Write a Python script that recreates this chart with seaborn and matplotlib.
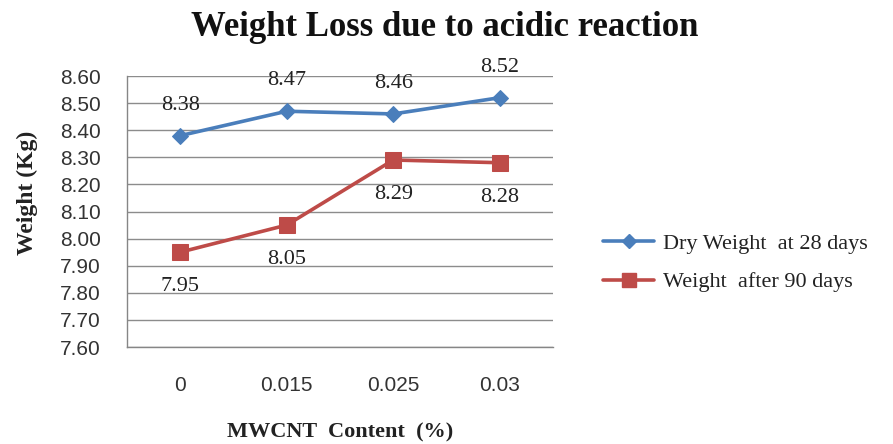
import seaborn as sns
import matplotlib.pyplot as plt
import pandas as pd
import numpy as np
from matplotlib.ticker import FixedLocator
from matplotlib.lines import Line2D

# data
content = ["0", "0.015", "0.025", "0.03"]
dry_28 = [8.38, 8.47, 8.46, 8.52]
after_90 = [7.95, 8.05, 8.29, 8.28]
series_names = ["Dry Weight  at 28 days", "Weight  after 90 days"]
y_ticks = [7.60, 7.70, 7.80, 7.90, 8.00, 8.10, 8.20, 8.30, 8.40, 8.50, 8.60]

df = pd.DataFrame({
    "content": content * 2,
    "weight": dry_28 + after_90,
    "series": [series_names[0]] * 4 + [series_names[1]] * 4,
})

sns.set_style("white")
serif = ["Liberation Serif", "DejaVu Serif"]
sans = ["Liberation Sans", "DejaVu Sans"]
plt.rcParams["font.family"] = sans

colors = {series_names[0]: "#4A7EBB", series_names[1]: "#BE4B48"}
markers = {series_names[0]: "D", series_names[1]: "s"}

fig = plt.figure(figsize=(8.93, 4.44), dpi=100)
ax = fig.add_axes([127 / 893, 1 - 347 / 444, 426 / 893, 271 / 444])

sns.lineplot(data=df, x="content", y="weight", hue="series", style="series",
             palette=colors, markers=markers, dashes=False, sort=False,
             linewidth=2.6, ax=ax, legend=False)
for line, name in zip(ax.lines, series_names):
    line.set_markersize(8 if markers[name] == "D" else 11)
    line.set_markeredgecolor(colors[name])

# data labels
for i, v in enumerate(dry_28):
    ax.annotate(f"{v:.2f}", (i, v), xytext=(0, 22), textcoords="offset points",
                ha="center", va="center", fontsize=16, family=serif, color="#222222")
for i, v in enumerate(after_90):
    ax.annotate(f"{v:.2f}", (i, v), xytext=(0, -25), textcoords="offset points",
                ha="center", va="center", fontsize=16, family=serif, color="#222222")

ax.set_ylim(7.60, 8.60)
ax.set_yticks(y_ticks)
ax.set_yticklabels([f"{t:.2f}" for t in y_ticks], fontsize=15)
ax.set_xlim(-0.5, 3.5)
ax.set_xticks(range(len(content)))
ax.set_xticklabels(content, fontsize=15)
ax.xaxis.set_minor_locator(FixedLocator(np.arange(-0.5, 3.6, 1)))
ax.tick_params(axis="x", which="major", length=0, pad=21, labelcolor="#333333")
ax.tick_params(axis="x", which="minor", length=5, color="#868686", width=1)
ax.tick_params(axis="y", length=5, color="#868686", width=1, labelcolor="#333333", pad=14)

ax.grid(axis="y", color="#8c8c8c", linewidth=1)
ax.set_axisbelow(True)
for s in ["top", "right"]:
    ax.spines[s].set_visible(False)
for s in ["left", "bottom"]:
    ax.spines[s].set_color("#868686")
    ax.spines[s].set_linewidth(1)

ax.set_xlabel("")
ax.set_ylabel("")
fig.text(340 / 893, 1 - 432 / 444, "MWCNT  Content  (%)", ha="center", va="center",
         fontsize=16, fontweight="bold", family=serif, color="#222222")
fig.text(27 / 893, 1 - 193 / 444, "Weight (Kg)", ha="center", va="center", rotation=90,
         fontsize=17, fontweight="bold", family=serif, color="#222222")
fig.text(445 / 893, 1 - 28 / 444, "Weight Loss due to acidic reaction", ha="center",
         va="center", fontsize=25, fontweight="bold", family=serif, color="#111111")

# legend
handles = [Line2D([], [], color=colors[n], marker=markers[n], lw=2.6,
                  markersize=7 if markers[n] == "D" else 10) for n in series_names]
fig.legend(handles, series_names, loc="center left", bbox_to_anchor=(583 / 893, 1 - 263 / 444),
           frameon=False, prop={"family": serif, "size": 16}, handlelength=2.3,
           handletextpad=0.4, labelspacing=0.8, labelcolor="#222222")

plt.savefig("out.png", dpi=100)
plt.close()
